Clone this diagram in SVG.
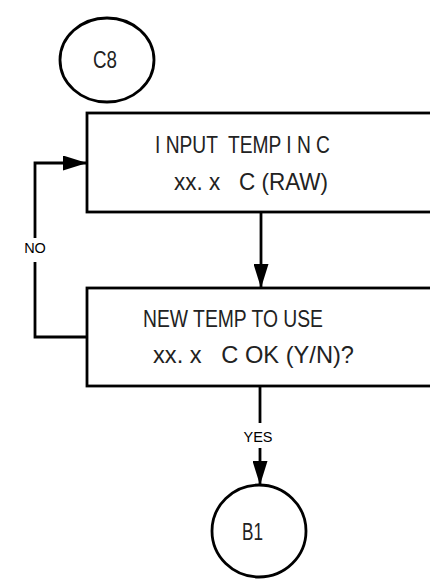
<svg xmlns="http://www.w3.org/2000/svg" width="430" height="580" viewBox="0 0 430 580">
<style>
.shape{fill:#fff;stroke:#000;stroke-width:2.8}
.conn{fill:none;stroke:#000;stroke-width:2.8}
.t{font-family:"Liberation Sans",Arial,sans-serif;font-size:24px;fill:#222;white-space:pre}
.lbl{font-family:"Liberation Sans",Arial,sans-serif;font-size:14.5px;fill:#000}
</style>
<defs>
<marker id="ah" markerUnits="userSpaceOnUse" markerWidth="24" markerHeight="15" refX="24" refY="7.5" orient="auto">
<path d="M0,0 L24,7.5 L0,15 z" fill="#000"/>
</marker>
</defs>
<g id="connectors">
<path class="conn" d="M261,212 V288" marker-end="url(#ah)"/>
<path class="conn" d="M87,337 H35 V262"/>
<path class="conn" d="M35,238 V163 H87" marker-end="url(#ah)"/>
<path class="conn" d="M260,386 V423"/>
<path class="conn" d="M260,448 V485" marker-end="url(#ah)"/>
<text class="lbl" x="35" y="253" text-anchor="middle">NO</text>
<text class="lbl" x="258" y="442" text-anchor="middle">YES</text>
</g>
<g id="c8">
<ellipse class="shape" cx="107" cy="60" rx="47" ry="42"/>
<text class="t" x="93" y="68" textLength="24" lengthAdjust="spacingAndGlyphs">C8</text>
</g>
<g id="input-temp">
<rect class="shape" x="87" y="113" width="360" height="99"/>
<text class="t" x="155" y="153" textLength="175" lengthAdjust="spacingAndGlyphs" xml:space="preserve">I NPUT  TEMP I N C</text>
<text class="t" x="174" y="190" textLength="154" lengthAdjust="spacingAndGlyphs" xml:space="preserve">xx. x   C (RAW)</text>
</g>
<g id="new-temp">
<rect class="shape" x="87" y="288" width="360" height="98"/>
<text class="t" x="143" y="327" textLength="180" lengthAdjust="spacingAndGlyphs" xml:space="preserve">NEW TEMP TO USE</text>
<text class="t" x="153" y="363" textLength="201" lengthAdjust="spacingAndGlyphs" xml:space="preserve">xx. x   C OK (Y/N)?</text>
</g>
<g id="b1">
<ellipse class="shape" cx="259" cy="531" rx="47" ry="46"/>
<text class="t" x="242" y="540" textLength="21" lengthAdjust="spacingAndGlyphs">B1</text>
</g>
</svg>
